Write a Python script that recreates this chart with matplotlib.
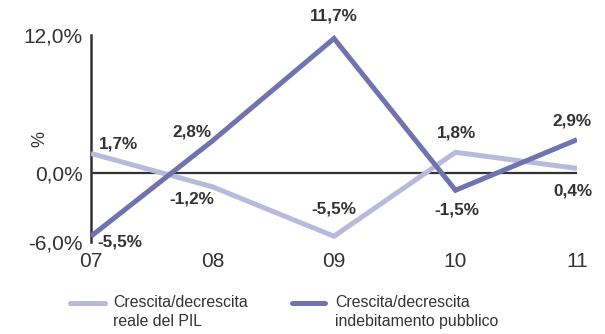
"""Crescita PIL vs indebitamento pubblico, 2007-2011."""
import matplotlib
matplotlib.use("Agg")
import matplotlib.pyplot as plt
from matplotlib.lines import Line2D

years = ["07", "08", "09", "10", "11"]
pil = [1.7, -1.2, -5.5, 1.8, 0.4]
debito = [-5.5, 2.8, 11.7, -1.5, 2.9]
yticks = [-6, 0, 12]
legend_labels = ["Crescita/decrescita\nreale del PIL",
                 "Crescita/decrescita\nindebitamento pubblico"]

PIL_COLOR = "#b9badb"
DEBT_COLOR = "#6f74b1"
TEXT = "#333333"

plt.rcParams["font.family"] = ["Liberation Sans", "DejaVu Sans"]


def fmt(v):
    return f"{v:.1f}%".replace(".", ",")


def main():
    fig = plt.figure(figsize=(6.05, 3.34), dpi=100)
    ax = fig.add_axes([0.1504, 0.2754, 0.8033, 0.6198])
    x = list(range(len(years)))

    ax.plot(x, pil, color=PIL_COLOR, lw=3.6, solid_joinstyle="miter",
            solid_capstyle="butt", zorder=3)
    ax.plot(x, debito, color=DEBT_COLOR, lw=3.6, solid_joinstyle="miter",
            solid_capstyle="butt", zorder=4)
    ax.axhline(0, color="#333333", lw=1.6, zorder=2)

    ax.set_xlim(0, len(years) - 1)
    ax.set_ylim(-6, 12)
    ax.set_yticks(yticks)
    ax.set_yticklabels([fmt(v) for v in yticks])
    ax.set_xticks(x)
    ax.set_xticklabels(years)
    ax.tick_params(length=0, labelsize=15, colors=TEXT)
    ax.tick_params(axis="y", pad=6)
    ax.tick_params(axis="x", pad=7)
    for s in ("top", "right", "bottom"):
        ax.spines[s].set_visible(False)
    ax.spines["left"].set_color("#333333")
    ax.spines["left"].set_linewidth(1.8)
    ax.set_ylabel("%", fontsize=13, color=TEXT)
    ax.yaxis.set_label_coords(-0.088, 0.5)

    # data labels: (dx, dy) offsets in points
    pil_off = [(20, 7), (-15, -9), (0, 19.5), (1, 14), (-3, -16)]
    debt_off = [(21, -4), (-15, 6.5), (0, 16), (1, -14), (-3.5, 13.5)]
    for series, offs in ((pil, pil_off), (debito, debt_off)):
        for xi, v, (dx, dy) in zip(x, series, offs):
            ax.annotate(fmt(v), (xi, v), xytext=(dx, dy),
                        textcoords="offset points", ha="center", va="center",
                        fontsize=12.3, fontweight="bold", color=TEXT,
                        annotation_clip=False)

    # legend drawn by hand: handle aligned with first text line
    W, H = 605, 334
    for (x0, x1, xt), col, lab in zip(((70, 105, 113), (292, 325, 335)),
                                      (PIL_COLOR, DEBT_COLOR), legend_labels):
        yy = 1 - 303 / H
        fig.add_artist(Line2D([x0 / W, x1 / W], [yy, yy], color=col, lw=3.6,
                              solid_capstyle="round", transform=fig.transFigure))
        fig.text(xt / W, 1 - 295 / H, lab, ha="left", va="top", fontsize=11.4,
                 color=TEXT, linespacing=1.3)

    fig.savefig("out.png", dpi=100)


if __name__ == "__main__":
    main()
